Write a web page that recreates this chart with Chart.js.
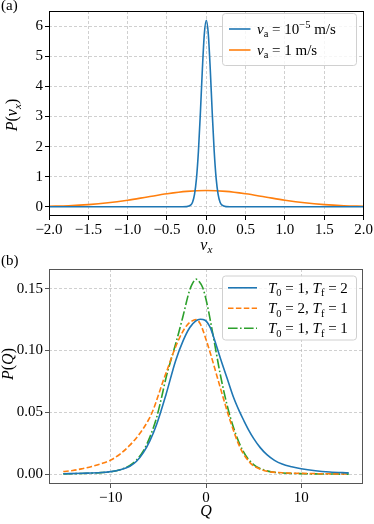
<!DOCTYPE html>
<html>
<head>
<meta charset="utf-8">
<script src="https://cdn.jsdelivr.net/npm/chart.js@4.4.1/dist/chart.umd.min.js"></script>
<style>
  html, body { margin: 0; padding: 0; background: #fff; }
  canvas { display: block; }
</style>
</head>
<body>
<canvas id="chartA" width="374" height="255"></canvas>
<canvas id="chartB" width="374" height="269"></canvas>
<script>
// ===== panel (a): P(v_x) =====
const vxNarrow = [-2, -0.3, -0.25, -0.2, -0.175, -0.15, -0.125, -0.1, -0.075, -0.05, -0.025, 0,
                  0.025, 0.05, 0.075, 0.1, 0.125, 0.15, 0.175, 0.2, 0.25, 0.3, 2];
const pNarrow = [0, 0, 0.003, 0.05, 0.15, 0.41, 0.94, 1.85, 3.14, 4.58, 5.75, 6.2,
                 5.75, 4.58, 3.14, 1.85, 0.94, 0.41, 0.15, 0.05, 0.003, 0, 0];
const vxWide = [-2, -1.75, -1.5, -1.25, -1, -0.75, -0.5, -0.25, 0, 0.25, 0.5, 0.75, 1, 1.25, 1.5, 1.75, 2];
const pWide = [0.014, 0.033, 0.069, 0.129, 0.216, 0.323, 0.429, 0.51, 0.54, 0.51, 0.429, 0.323, 0.216, 0.129, 0.069, 0.033, 0.014];
const xTicksA = [-2, -1.5, -1, -0.5, 0, 0.5, 1, 1.5, 2];
const yTicksA = [0, 1, 2, 3, 4, 5, 6];

// ===== panel (b): P(Q) =====
const qBlue = [-15, -13, -11, -10, -9, -8, -7.3, -6.6, -5.9, -5.2, -4.2, -3.2, -2.4, -1.7, -1.1, -0.6, -0.1,
               0.45, 0.8, 1.5, 2.2, 2.9, 3.5, 4, 4.5, 5, 5.7, 6.4, 7.2, 8, 9, 10, 11.5, 13, 15];
const pBlue = [0.0004, 0.0008, 0.0014, 0.0021, 0.0036, 0.0065, 0.0105, 0.0173, 0.027, 0.040, 0.0645, 0.0916, 0.108, 0.1186, 0.1238, 0.1253, 0.1245,
               0.1185, 0.111, 0.094, 0.078, 0.062, 0.051, 0.043, 0.0355, 0.029, 0.0215, 0.0158, 0.0112, 0.0082, 0.006, 0.0044, 0.0028, 0.0018, 0.0011];
const qOrange = [-15, -14, -13, -12, -11, -10, -9, -8, -7, -6, -5.5, -5, -4.5, -4, -3.5, -3, -2.5, -2, -1.5, -1.05, -0.6, 0,
                 0.45, 1.5, 2.55, 3.6, 4.64, 5.5, 6.4, 8, 9.9, 12, 15];
const pOrange = [0.0022, 0.003, 0.0045, 0.0063, 0.0085, 0.0115, 0.0165, 0.0235, 0.0325, 0.0445, 0.053, 0.064, 0.0755, 0.086, 0.097, 0.1065, 0.1145, 0.1205, 0.1238, 0.125, 0.1215, 0.109,
                 0.098, 0.070, 0.043, 0.0213, 0.0092, 0.0048, 0.0024, 0.0012, 0.0007, 0.0004, 0.0002];
const qGreen = [-15, -13, -11, -10, -9, -8, -7.3, -6.6, -5.9, -5.2, -4.7, -4.2, -3.7, -3.2, -2.45, -1.75, -1.4, -1.05, -0.7, -0.35,
                0.1, 0.8, 1.5, 2.2, 2.9, 3.9, 5, 6.4, 8, 9.9, 12, 15];
const pGreen = [0.0003, 0.0006, 0.0013, 0.002, 0.0037, 0.0072, 0.0115, 0.0186, 0.030, 0.0456, 0.061, 0.078, 0.092, 0.105, 0.1267, 0.148, 0.1545, 0.1577, 0.1555, 0.151,
                0.138, 0.110, 0.0807, 0.0564, 0.0375, 0.0186, 0.0078, 0.0027, 0.001, 0.0005, 0.0002, 0.0001];
const xTicksB = [-10, 0, 10];
const yTicksB = [0, 0.05, 0.1, 0.15];

const SERIF = "'Liberation Serif', 'DejaVu Serif', serif";
const BLUE = '#1f77b4', ORANGE = '#ff7f0e', GREEN = '#2ca02c';
const GRID = 'rgba(176,176,176,0.75)';
const minus = s => s.replace('-', '\u2212');

function pts(xs, ys) {
    return xs.map((x, i) => ({ x: x, y: ys[i] }));
}

// draws text made of parts: [text, flags], flags: i = italic, b = subscript, p = superscript
function drawRich(ctx, parts, x, y, size, align) {
    let w = 0;
    const runs = parts.map(([t, f = '']) => {
        const small = f.includes('b') || f.includes('p');
        const s = small ? size * 0.7 : size;
        const font = (f.includes('i') ? 'italic ' : '') + s + 'px ' + SERIF;
        ctx.font = font;
        const tw = ctx.measureText(t).width;
        w += tw;
        return { t, font, w: tw, dy: f.includes('b') ? size * 0.22 : (f.includes('p') ? -size * 0.4 : 0) };
    });
    let cx = align === 'center' ? x - w / 2 : (align === 'right' ? x - w : x);
    ctx.textAlign = 'left';
    ctx.textBaseline = 'alphabetic';
    ctx.fillStyle = '#000';
    runs.forEach(r => {
        ctx.font = r.font;
        ctx.fillText(r.t, cx, y + r.dy);
        cx += r.w;
    });
    return w;
}

function roundRect(ctx, x, y, w, h, r) {
    ctx.beginPath();
    ctx.moveTo(x + r, y);
    ctx.arcTo(x + w, y, x + w, y + h, r);
    ctx.arcTo(x + w, y + h, x, y + h, r);
    ctx.arcTo(x, y + h, x, y, r);
    ctx.arcTo(x, y, x + w, y, r);
    ctx.closePath();
}

// frame, axis titles, panel tag and legend
function decorPlugin(cfg) {
    return {
        id: 'decor',
        afterDraw(chart) {
            const ctx = chart.ctx;
            const a = chart.chartArea;
            ctx.save();
            ctx.strokeStyle = cfg.frame;
            ctx.lineWidth = 1;
            ctx.setLineDash([]);
            ctx.strokeRect(Math.round(a.left) + 0.5, Math.round(a.top) + 0.5,
                Math.round(a.right - a.left) - 1, Math.round(a.bottom - a.top) - 1);

            // panel tag
            drawRich(ctx, [[cfg.tag]], 1, cfg.tagY, 15, 'left');
            // x title
            drawRich(ctx, cfg.xTitle, (a.left + a.right) / 2, cfg.xTitleY, 16, 'center');
            // y title
            ctx.save();
            ctx.translate(cfg.yTitleX, cfg.yTitleY);
            ctx.rotate(-Math.PI / 2);
            drawRich(ctx, cfg.yTitle, 0, 0, 16, 'center');
            ctx.restore();

            // legend
            const L = cfg.legend;
            roundRect(ctx, L.x + 0.5, L.y + 0.5, L.w, L.h, 3);
            ctx.fillStyle = 'rgba(255,255,255,0.8)';
            ctx.fill();
            ctx.strokeStyle = '#d0d0d0';
            ctx.lineWidth = 1;
            ctx.stroke();
            L.rows.forEach((row, i) => {
                const ds = chart.data.datasets[i];
                const ry = L.y + L.rowY[i];
                ctx.strokeStyle = ds.borderColor;
                ctx.lineWidth = ds.borderWidth;
                ctx.setLineDash(ds.borderDash || []);
                ctx.beginPath();
                ctx.moveTo(L.x + L.line[0], ry);
                ctx.lineTo(L.x + L.line[1], ry);
                ctx.stroke();
                ctx.setLineDash([]);
                drawRich(ctx, row, L.x + L.textX, ry + 5, L.size, 'left');
            });
            ctx.restore();
        }
    };
}

function axisX(min, max, ticks, fmt, h, tickColor) {
    return {
        type: 'linear', min: min, max: max,
        afterBuildTicks: s => { s.ticks = ticks.map(v => ({ value: v })); },
        afterFit: s => { s.height = h; },
        grid: { color: GRID, lineWidth: 0.8, tickColor: tickColor, tickLength: 4, tickWidth: 1 },
        border: { display: false, dash: [3, 2] },
        ticks: { color: '#000', font: { family: SERIF, size: 15 }, padding: 1, maxRotation: 0, autoSkip: false, callback: fmt }
    };
}

function axisY(min, max, ticks, fmt, tickColor) {
    return {
        type: 'linear', min: min, max: max,
        afterBuildTicks: s => { s.ticks = ticks.map(v => ({ value: v })); },
        afterFit: s => { s.width = 49; },
        grid: { color: GRID, lineWidth: 0.8, tickColor: tickColor, tickLength: 4, tickWidth: 1 },
        border: { display: false, dash: [3, 2] },
        ticks: { color: '#000', font: { family: SERIF, size: 15 }, padding: 2, autoSkip: false, callback: fmt }
    };
}

const lineStyle = { pointRadius: 0, fill: false, cubicInterpolationMode: 'monotone' };

// ===== Grafik (a) =====
new Chart(document.getElementById('chartA'), {
    type: 'line',
    data: {
        datasets: [
            Object.assign({ label: 'v_a = 10^-5 m/s', data: pts(vxNarrow, pNarrow), borderColor: BLUE, borderWidth: 1.6 }, lineStyle),
            Object.assign({ label: 'v_a = 1 m/s', data: pts(vxWide, pWide), borderColor: ORANGE, borderWidth: 1.6 }, lineStyle)
        ]
    },
    options: {
        responsive: false,
        animation: false,
        layout: { padding: { top: 8, right: 10, left: 0, bottom: 0 } },
        plugins: { legend: { display: false }, tooltip: { enabled: false } },
        scales: {
            x: axisX(-2, 2, xTicksA, v => minus(Number(v).toFixed(1)), 39, '#000'),
            y: axisY(-0.31, 6.51, yTicksA, v => String(v), '#000')
        }
    },
    plugins: [decorPlugin({
        frame: '#000', tag: '(a)', tagY: 10,
        xTitle: [['v', 'i'], ['x', 'ib']], xTitleY: 249.5,
        yTitle: [['P', 'i'], ['('], ['v', 'i'], ['x', 'ib'], [')']], yTitleX: 17, yTitleY: 115,
        legend: {
            x: 222, y: 13, w: 134, h: 52, size: 15,
            line: [7, 28.5], textX: 35, rowY: [16, 37],
            rows: [
                [['v', 'i'], ['a', 'b'], [' = 10'], ['\u22125', 'p'], [' m/s']],
                [['v', 'i'], ['a', 'b'], [' = 1 m/s']]
            ]
        }
    })]
});

// ===== Grafik (b) =====
new Chart(document.getElementById('chartB'), {
    type: 'line',
    data: {
        datasets: [
            Object.assign({ label: 'T0 = 1, Tf = 2', data: pts(qBlue, pBlue), borderColor: BLUE, borderWidth: 1.6 }, lineStyle),
            Object.assign({ label: 'T0 = 2, Tf = 1', data: pts(qOrange, pOrange), borderColor: ORANGE, borderWidth: 1.6, borderDash: [5.5, 2.4] }, lineStyle),
            Object.assign({ label: 'T0 = 1, Tf = 1', data: pts(qGreen, pGreen), borderColor: GREEN, borderWidth: 1.6, borderDash: [9.6, 2.4, 1.6, 2.4] }, lineStyle)
        ]
    },
    options: {
        responsive: false,
        animation: false,
        layout: { padding: { top: 14, right: 11, left: 0, bottom: 0 } },
        plugins: { legend: { display: false }, tooltip: { enabled: false } },
        scales: {
            x: axisX(-16.5, 16.5, xTicksB, v => minus(String(v)), 40, '#555'),
            y: axisY(-0.0079, 0.1659, yTicksB, v => Number(v).toFixed(2), '#555')
        }
    },
    plugins: [decorPlugin({
        frame: '#555', tag: '(b)', tagY: 10,
        xTitle: [['Q', 'i']], xTitleY: 261,
        yTitle: [['P', 'i'], ['('], ['Q', 'i'], [')']], yTitleX: 12.5, yTitleY: 109,
        legend: {
            x: 222, y: 20.5, w: 134, h: 64, size: 15,
            line: [6, 35], textX: 46, rowY: [12.3, 32.8, 52.8],
            rows: [
                [['T', 'i'], ['0', 'b'], [' = 1, '], ['T', 'i'], ['f', 'b'], [' = 2']],
                [['T', 'i'], ['0', 'b'], [' = 2, '], ['T', 'i'], ['f', 'b'], [' = 1']],
                [['T', 'i'], ['0', 'b'], [' = 1, '], ['T', 'i'], ['f', 'b'], [' = 1']]
            ]
        }
    })]
});
</script>
</body>
</html>
